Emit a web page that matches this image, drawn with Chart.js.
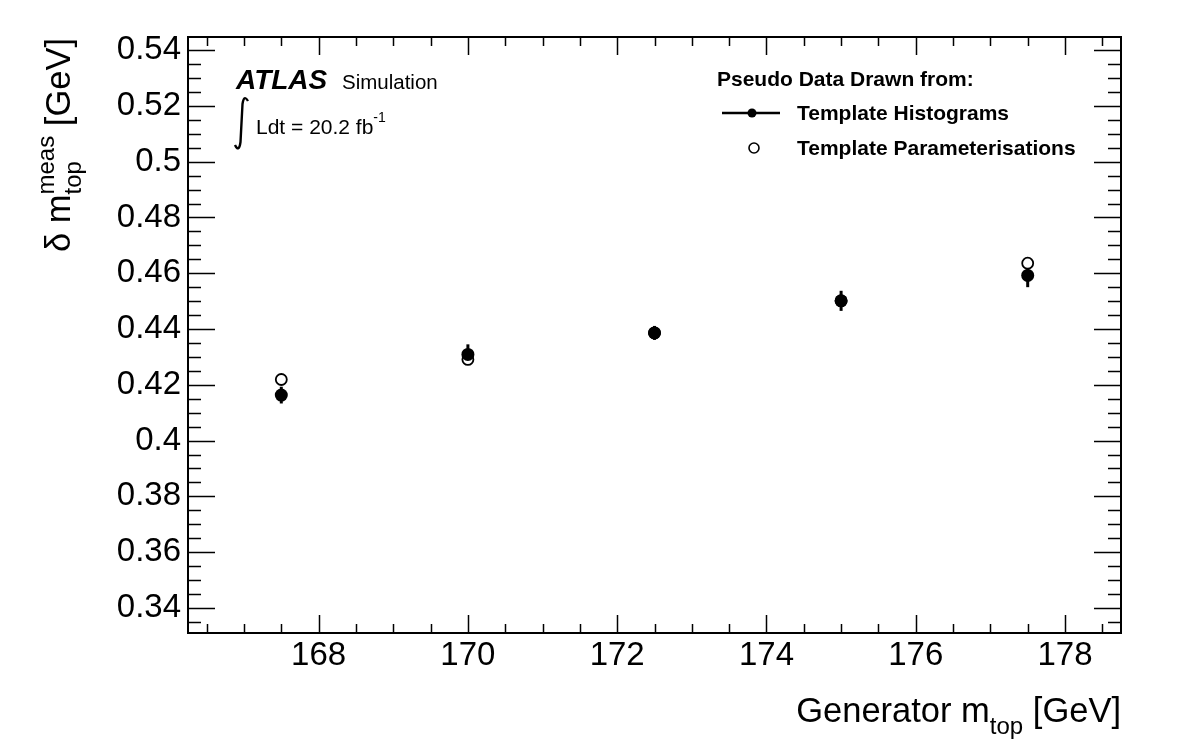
<!DOCTYPE html>
<html>
<head>
<meta charset="utf-8">
<script src="https://cdn.jsdelivr.net/npm/chart.js@4.4.0/dist/chart.umd.min.js"></script>
<style>
  html, body { margin:0; padding:0; background:#fff; }
  #wrap { width:1182px; height:755px; position:relative; }
</style>
</head>
<body>
<div id="wrap"><canvas id="c" width="1182" height="755"></canvas></div>
<script>
// generator top mass points
var massPoints = [167.5, 170, 172.5, 175, 177.5];
// pseudo data from template histograms (filled) with error
var histVals = [0.4163, 0.4309, 0.4386, 0.4501, 0.4592];
var histErr  = [0.0030, 0.0036, 0.0025, 0.0036, 0.0042];
// pseudo data from template parameterisations (open)
var paramVals = [0.4219, 0.4291, 0.4386, 0.4501, 0.4636];
// axis ticks
var xTicks = [168, 170, 172, 174, 176, 178];
var yTicks = [0.34, 0.36, 0.38, 0.40, 0.42, 0.44, 0.46, 0.48, 0.50, 0.52, 0.54];
var xRange = [166.25, 178.75];
var yRange = [0.331, 0.5447];

var FONT = "'Liberation Sans', Arial, Helvetica, sans-serif";
Chart.defaults.font.family = FONT;
Chart.defaults.color = '#000';

function pts(ys){ return massPoints.map(function(x,i){ return {x:x, y:ys[i]}; }); }

// text pieces with sub/superscripts, drawn along the baseline
function richWidth(ctx, parts){
  var w = 0;
  parts.forEach(function(p){
    if(p.stack){
      var mw = 0;
      p.stack.forEach(function(s){ ctx.font = s.font; mw = Math.max(mw, ctx.measureText(s.text).width); });
      w += mw;
    } else { ctx.font = p.font; w += ctx.measureText(p.text).width; }
  });
  return w;
}
function richDraw(ctx, parts, x, y){
  ctx.textAlign = 'left'; ctx.textBaseline = 'alphabetic';
  parts.forEach(function(p){
    if(p.stack){
      var mw = 0;
      p.stack.forEach(function(s){ ctx.font = s.font; ctx.fillText(s.text, x, y + s.dy); mw = Math.max(mw, ctx.measureText(s.text).width); });
      x += mw;
    } else {
      ctx.font = p.font; ctx.fillText(p.text, x, y + (p.dy||0));
      x += ctx.measureText(p.text).width;
    }
  });
}

var rootFrame = {
  id:'rootFrame',
  beforeDatasetsDraw:function(chart){
    var ctx = chart.ctx, xs = chart.scales.x, ys = chart.scales.y;
    // error bars
    ctx.save();
    ctx.strokeStyle = '#000'; ctx.lineWidth = 3;
    massPoints.forEach(function(m,i){
      var px = xs.getPixelForValue(m);
      ctx.beginPath();
      ctx.moveTo(px, ys.getPixelForValue(histVals[i]-histErr[i]));
      ctx.lineTo(px, ys.getPixelForValue(histVals[i]+histErr[i]));
      ctx.stroke();
    });
    ctx.restore();
  },
  afterDraw:function(chart){
    var ctx = chart.ctx, a = chart.chartArea, xs = chart.scales.x, ys = chart.scales.y;
    ctx.save();
    ctx.strokeStyle = '#000'; ctx.fillStyle = '#000';
    ctx.lineWidth = 2;
    ctx.strokeRect(a.left, a.top, a.right-a.left, a.bottom-a.top);

    ctx.lineWidth = 1.5;
    ctx.beginPath();
    // x ticks, bottom and top
    for(var v = 166.5; v <= xRange[1]; v += 0.5){
      var px = Math.round(xs.getPixelForValue(v)) + 0.5;
      var major = Math.abs(v/2 - Math.round(v/2)) < 1e-6;
      var len = major ? 18 : 9;
      ctx.moveTo(px, a.bottom); ctx.lineTo(px, a.bottom - len);
      ctx.moveTo(px, a.top); ctx.lineTo(px, a.top + len);
    }
    // y ticks, left and right
    for(var k = 67; k <= 108; k++){
      var val = k*0.005;
      if(val < yRange[0] || val > yRange[1]) continue;
      var py = Math.round(ys.getPixelForValue(val)) + 0.5;
      var len2 = (k % 4 === 0) ? 27 : 13;
      ctx.moveTo(a.left, py); ctx.lineTo(a.left + len2, py);
      ctx.moveTo(a.right, py); ctx.lineTo(a.right - len2, py);
    }
    ctx.stroke();

    // axis titles
    var F = 34.5, S = 24;
    var xt = [
      {text:'Generator m', font:F+'px '+FONT},
      {text:'top', font:S+'px '+FONT, dy:12},
      {text:' [GeV]', font:F+'px '+FONT}
    ];
    var w = richWidth(ctx, xt);
    richDraw(ctx, xt, a.right - w, 722);

    var yt = [
      {text:'\u03b4 m', font:F+'px '+FONT},
      {stack:[{text:'meas', font:S+'px '+FONT, dy:-16},{text:'top', font:S+'px '+FONT, dy:11}]},
      {text:' [GeV]', font:F+'px '+FONT}
    ];
    var wy = richWidth(ctx, yt);
    ctx.save();
    ctx.translate(70, 38 + wy);
    ctx.rotate(-Math.PI/2);
    richDraw(ctx, yt, 0, 0);
    ctx.restore();

    // ATLAS label
    ctx.textAlign = 'left'; ctx.textBaseline = 'alphabetic';
    ctx.font = 'italic bold 28px '+FONT;
    ctx.fillText('ATLAS', 236, 89);
    ctx.font = '20.5px '+FONT;
    ctx.fillText('Simulation', 342, 89);
    richDraw(ctx, [
      {text:'Ldt = 20.2 fb', font:'21px '+FONT},
      {text:'-1', font:'14px '+FONT, dy:-12}
    ], 256, 134);
    // integral sign
    ctx.lineWidth = 2.4;
    ctx.beginPath();
    ctx.moveTo(248, 101);
    ctx.quadraticCurveTo(244, 94, 242.5, 104);
    ctx.lineTo(240.5, 142);
    ctx.quadraticCurveTo(239, 153, 235, 145);
    ctx.stroke();

    // legend
    ctx.font = 'bold 21px '+FONT;
    ctx.fillText('Pseudo Data Drawn from:', 717, 86);
    ctx.fillText('Template Histograms', 797, 120);
    ctx.fillText('Template Parameterisations', 797, 155);
    ctx.lineWidth = 2.5;
    ctx.beginPath(); ctx.moveTo(722, 113); ctx.lineTo(780, 113); ctx.stroke();
    ctx.beginPath(); ctx.arc(752, 113, 4.5, 0, Math.PI*2); ctx.fill();
    ctx.lineWidth = 1.6;
    ctx.beginPath(); ctx.arc(754, 148, 5, 0, Math.PI*2); ctx.stroke();
    ctx.restore();
  }
};

new Chart(document.getElementById('c'), {
  type:'scatter',
  data:{ datasets:[
    { label:'Template Histograms', data:pts(histVals), pointRadius:6.5, pointHoverRadius:6.5,
      backgroundColor:'#000', borderColor:'#000', borderWidth:0, showLine:false },
    { label:'Template Parameterisations', data:pts(paramVals), pointRadius:5.5, pointHoverRadius:5.5,
      backgroundColor:'#fff', borderColor:'#000', borderWidth:1.8, showLine:false }
  ]},
  options:{
    responsive:false, animation:false,
    layout:{ padding:{ left:0, top:37, right:61, bottom:0 } },
    plugins:{ legend:{display:false}, tooltip:{enabled:false} },
    scales:{
      x:{ type:'linear', min:xRange[0], max:xRange[1],
        grid:{display:false, drawTicks:false}, border:{display:false},
        afterBuildTicks:function(s){ s.ticks = xTicks.map(function(v){ return {value:v}; }); },
        afterFit:function(s){ s.height = 122; },
        ticks:{ font:{size:33}, padding:3, maxRotation:0, autoSkip:false,
          callback:function(v){ return String(v); } } },
      y:{ type:'linear', min:yRange[0], max:yRange[1],
        grid:{display:false, drawTicks:false}, border:{display:false},
        afterBuildTicks:function(s){ s.ticks = yTicks.map(function(v){ return {value:v}; }); },
        afterFit:function(s){ s.width = 188; },
        ticks:{ font:{size:33}, padding:7, autoSkip:false,
          callback:function(v){ return String(+v.toFixed(2)); } } }
    }
  },
  plugins:[rootFrame]
});
</script>
</body>
</html>
